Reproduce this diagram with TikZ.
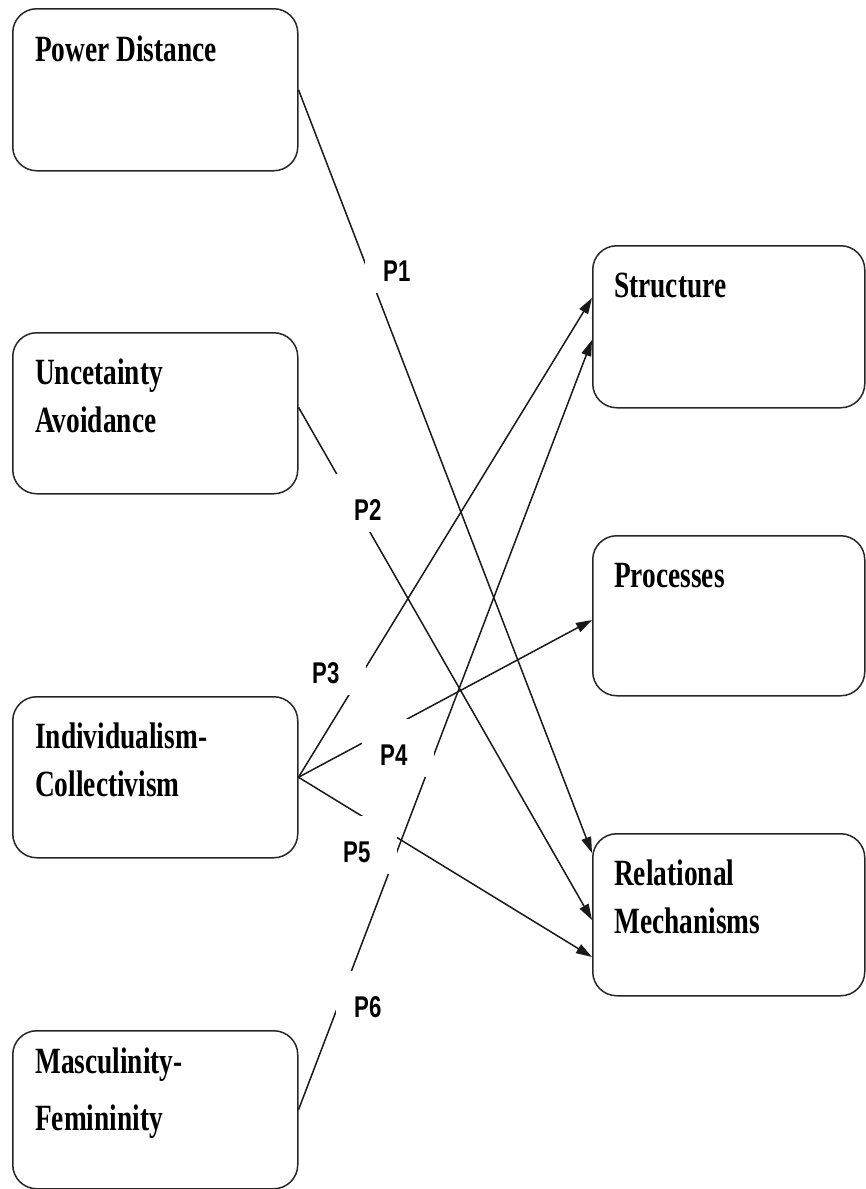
\documentclass[tikz,border=0pt]{standalone}
\usepackage{fontspec}
\newfontfamily\boxfont[FakeStretch=0.74]{Liberation Serif}
\newfontfamily\labfont[FakeStretch=0.74]{Liberation Sans}
\usetikzlibrary{arrows.meta,calc}
\begin{document}
\begin{tikzpicture}[x=1pt,y=-1pt,
  box/.style={draw=black!85, line width=1.5pt, rounded corners=24pt, fill=white, anchor=north west, inner sep=0pt},
  boxtext/.style={anchor=base west, inner sep=0pt, font=\boxfont\bfseries\fontsize{37}{48}\selectfont},
  link/.style={draw=black!90, line width=1.5pt, -{Triangle[length=16pt,width=10pt]}},
  plab/.style={fill=white, inner xsep=18pt, inner ysep=0pt, text width=36pt, align=left, text height=46pt, text depth=12pt, anchor=base west, font=\labfont\bfseries\fontsize{30}{34}\selectfont}]
\useasboundingbox (0,0) rectangle (866,1189);
% boxes
\node[box, minimum width=285pt, minimum height=162pt] (b1) at (12,8) {};
\node[box, minimum width=285pt, minimum height=161pt] (b2) at (12,332) {};
\node[box, minimum width=285pt, minimum height=161pt] (b3) at (12,696) {};
\node[box, minimum width=285pt, minimum height=158pt] (b4) at (12,1030) {};
\node[box, minimum width=272pt, minimum height=162pt] (s) at (592,245) {};
\node[box, minimum width=272pt, minimum height=160pt] (pr) at (592,535) {};
\node[box, minimum width=272pt, minimum height=162pt] (rm) at (592,833) {};
% box texts
\node[boxtext] (t1) at (35,61) {Power Distance};
\node[boxtext] (t2) at (35,384) {\parbox[t]{240pt}{Uncetainty\\Avoidance}};
\node[boxtext] (t3) at (35,748) {\parbox[t]{240pt}{Individualism-\\Collectivism}};
\node[boxtext] (t4) at (35,1073) {\parbox[t]{240pt}{Masculinity-\\[9pt]Femininity}};
\node[boxtext] (ts) at (614,297) {Structure};
\node[boxtext] (tp) at (614,587) {Processes};
\node[boxtext] (tr) at (614,885) {\parbox[t]{240pt}{Relational\\Mechanisms}};
% connectors
\draw[link] (b1.east) -- ($(rm.north west)+(0,20)$);
\draw[link] ($(b2.east)+(0,-6)$) -- ($(rm.north west)+(0,87)$);
\draw[link] (b3.east) -- ($(s.north west)+(0,53)$);
\draw[link] (b3.east) -- ($(pr.north west)+(0,85)$);
\draw[link] (b3.east) -- ($(rm.north west)+(0,124)$);
\draw[link] (b4.east) -- ($(s.north west)+(0,95)$);
% labels
\node[plab] (p1) at (365,281) {P1};
\node[plab] (p2) at (336,520) {P2};
\node[plab] (p3) at (294,683) {P3};
\node[plab] (p4) at (362,765) {P4};
\node[plab] (p5) at (325,862) {P5};
\node[plab] (p6) at (336,1017) {P6};
\end{tikzpicture}
\end{document}
